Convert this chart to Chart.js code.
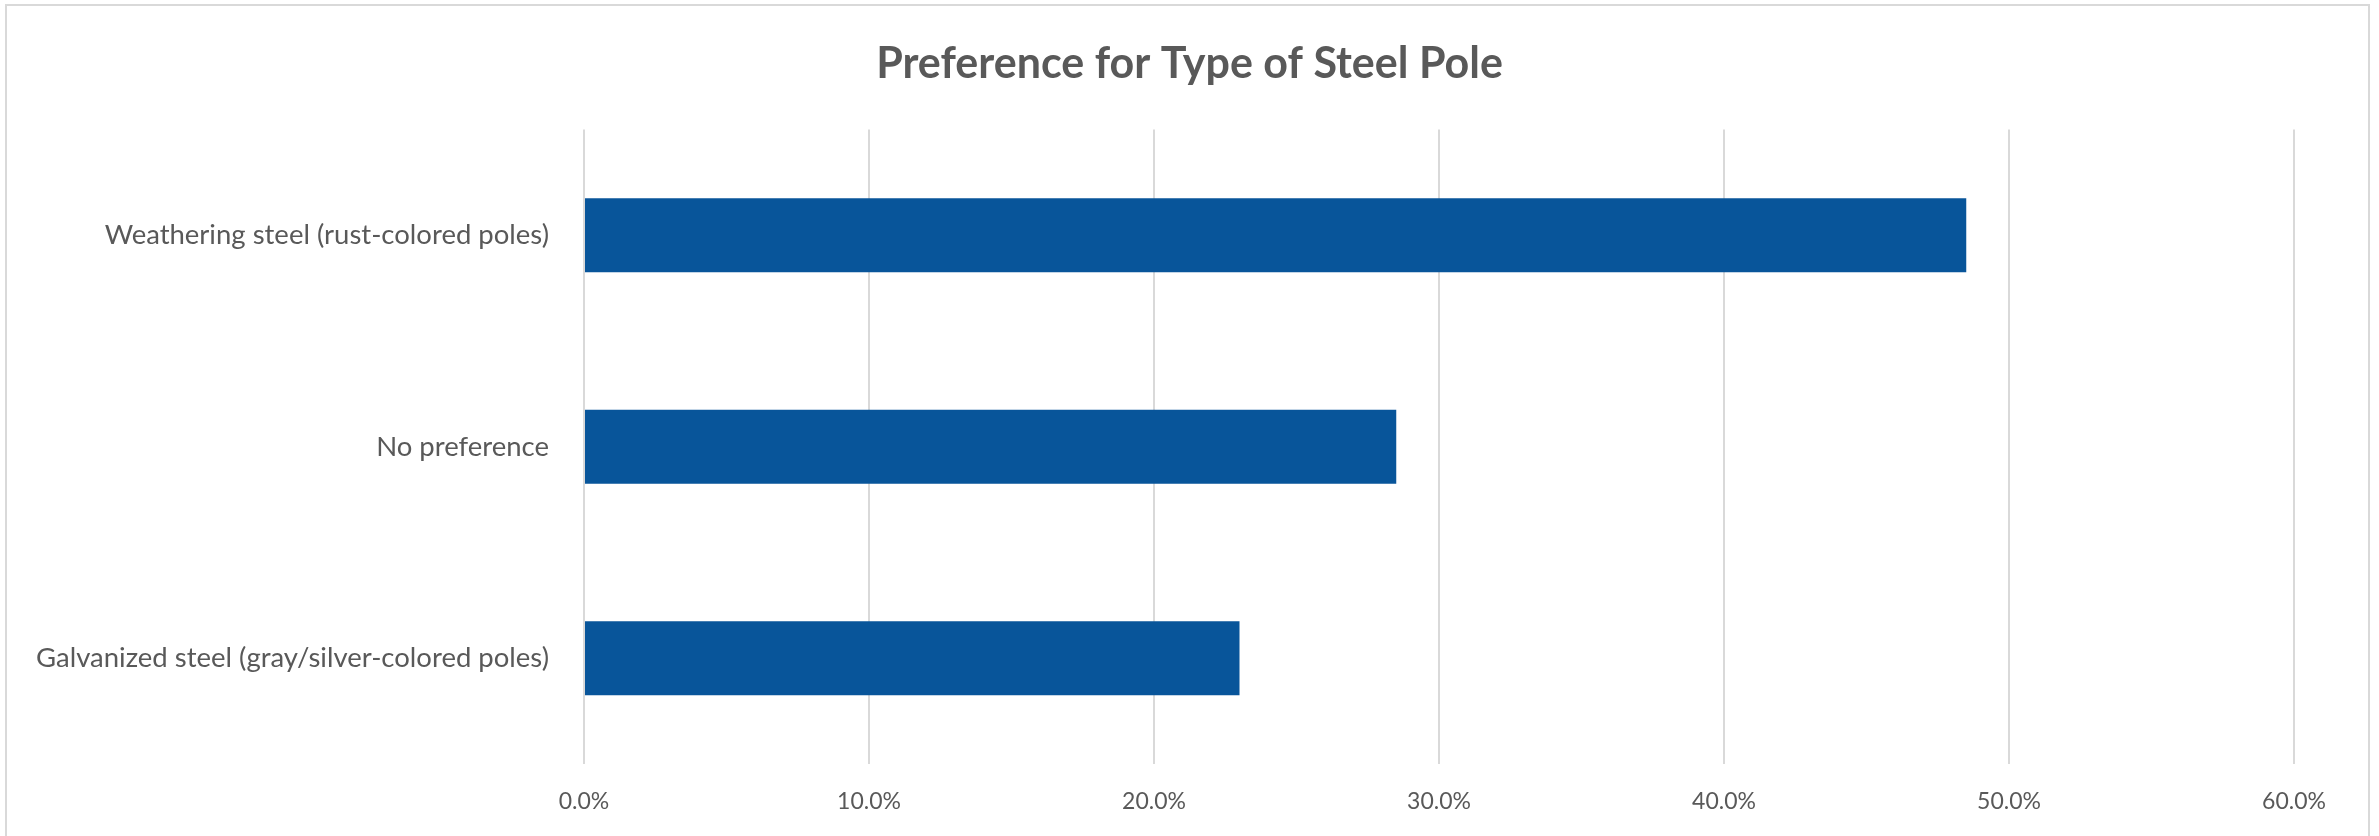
<!DOCTYPE html>
<html>
<head>
<meta charset="utf-8">
<script src="https://cdn.jsdelivr.net/npm/chart.js@4"></script>
<style>
  html, body { margin: 0; padding: 0; background: #fff; }
  #wrap { width: 2379px; height: 836px; }
</style>
</head>
<body>
<div id="wrap"><canvas id="poleChart" width="2379" height="836"></canvas></div>
<script>
const chartTitle = 'Preference for Type of Steel Pole';
const categories = [
    'Weathering steel (rust-colored poles)',
    'No preference',
    'Galvanized steel (gray/silver-colored poles)'
];
const shares = [48.5, 28.5, 23.0];
const axisMin = 0;
const axisMax = 60;
const axisStep = 10;

// frame around the whole chart, like the Excel chart area border
const framePlugin = {
    id: 'frame',
    beforeDraw(chart) {
        const c = chart.ctx;
        c.save();
        c.strokeStyle = '#D9D9D9';
        c.lineWidth = 2;
        c.strokeRect(6, 5, 2363, 840);
        c.restore();
    }
};

const ctx = document.getElementById('poleChart').getContext('2d');
new Chart(ctx, {
    type: 'bar',
    data: {
        labels: categories,
        datasets: [{
            label: 'Share',
            data: shares,
            backgroundColor: '#08559A',
            borderWidth: 0,
            categoryPercentage: 1.0,
            barPercentage: 0.35
        }]
    },
    options: {
        indexAxis: 'y',
        responsive: false,
        animation: false,
        layout: { padding: 0 },
        scales: {
            x: {
                min: axisMin,
                max: axisMax,
                ticks: {
                    stepSize: axisStep,
                    color: '#595959',
                    padding: 24,
                    font: { family: 'Lato', size: 23 },
                    callback: v => v.toFixed(1) + '%'
                },
                grid: { color: '#D9D9D9', lineWidth: 2, drawTicks: false },
                border: { display: false },
                // keep room on the right only for the plot, so the title stays centred
                afterFit: scale => { scale.height = 72; scale.paddingRight = 85; }
            },
            y: {
                ticks: {
                    color: '#595959',
                    padding: 35,
                    font: { family: 'Lato', size: 27.5 }
                },
                grid: { display: false, drawTicks: false },
                border: { display: false },
                afterFit: scale => { scale.width = 584; }
            }
        },
        plugins: {
            legend: { display: false },
            tooltip: { enabled: false },
            title: {
                display: true,
                text: chartTitle,
                color: '#595959',
                font: { family: 'Lato', size: 43, weight: 'bold' },
                padding: { top: 38, bottom: 40 }
            }
        }
    },
    plugins: [framePlugin]
});
</script>
</body>
</html>
